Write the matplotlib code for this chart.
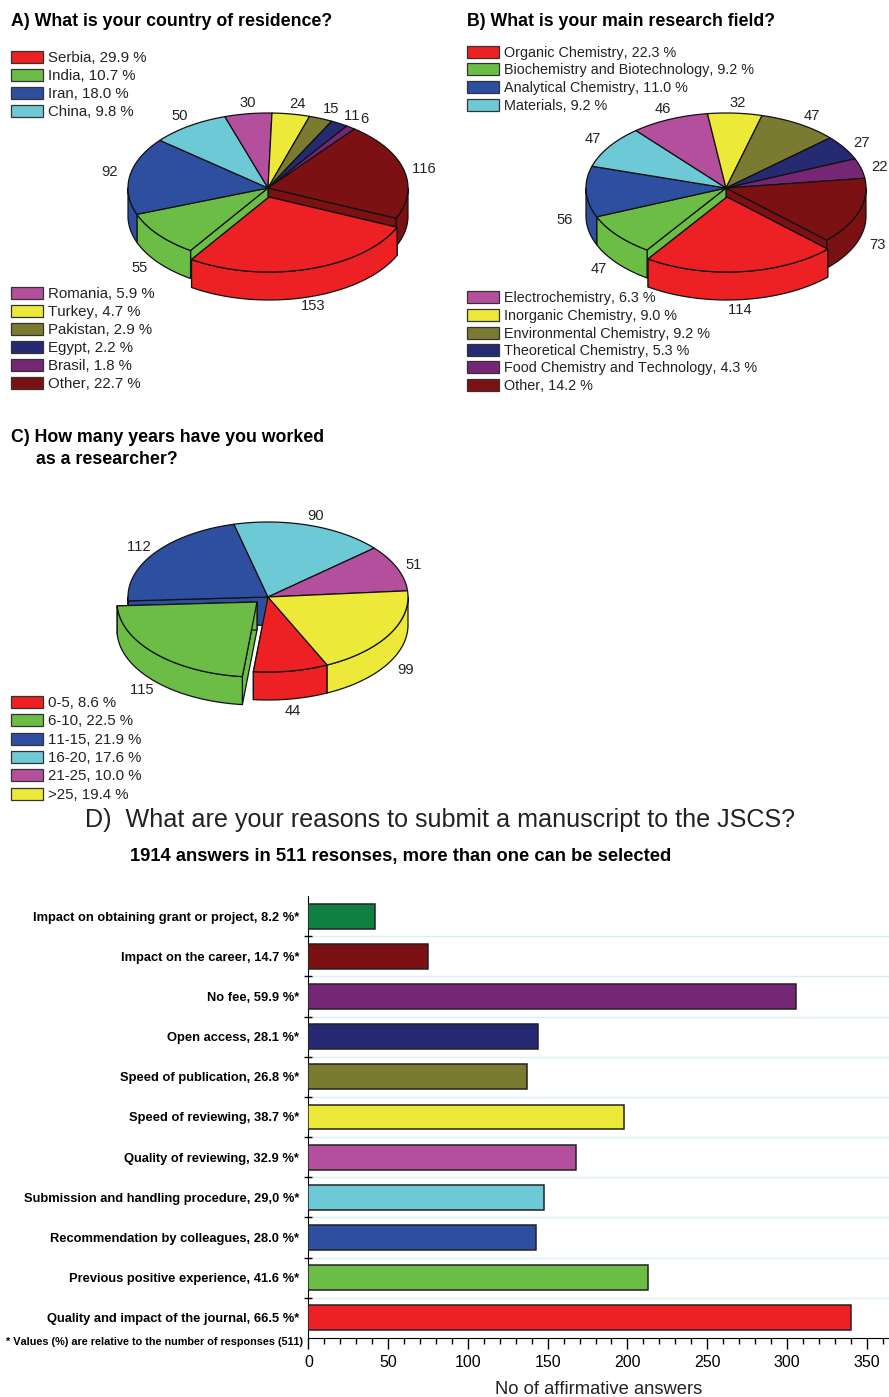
# survey charts - three tilted pies and a bar chart

import matplotlib
matplotlib.use('Agg')
import matplotlib.pyplot as plt
from matplotlib.patches import Polygon, Rectangle
import numpy as np

plt.rcParams['font.family'] = ['Liberation Sans', 'DejaVu Sans']
plt.rcParams['text.kerning_factor'] = 6

RED = '#ed2024'
GREEN = '#6cbd45'
BLUE = '#2e4fa0'
CYAN = '#6ec9d6'
MAGENTA = '#b34f9c'
YELLOW = '#ede938'
OLIVE = '#7a7a30'
NAVY = '#252a72'
PURPLE = '#752675'
MAROON = '#7b1113'
DKGREEN = '#0f8040'

ten_colors = [RED, GREEN, BLUE, CYAN, MAGENTA, YELLOW, OLIVE, NAVY, PURPLE, MAROON]
six_colors = [RED, GREEN, BLUE, CYAN, MAGENTA, YELLOW]

# A
country_counts = [153, 55, 92, 50, 30, 24, 15, 11, 6, 116]
country_labels = ['Serbia, 29.9 %', 'India, 10.7 %', 'Iran, 18.0 %', 'China, 9.8 %',
                  'Romania, 5.9 %', 'Turkey, 4.7 %', 'Pakistan, 2.9 %', 'Egypt, 2.2 %',
                  'Brasil, 1.8 %', 'Other, 22.7 %']
# B
field_counts = [114, 47, 56, 47, 46, 32, 47, 27, 22, 73]
field_labels = ['Organic Chemistry, 22.3 %', 'Biochemistry and Biotechnology, 9.2 %',
                'Analytical Chemistry, 11.0 %', 'Materials, 9.2 %',
                'Electrochemistry, 6.3 %', 'Inorganic Chemistry, 9.0 %',
                'Environmental Chemistry, 9.2 %', 'Theoretical Chemistry, 5.3 %',
                'Food Chemistry and Technology, 4.3 %', 'Other, 14.2 %']
# C
years_counts = [44, 115, 112, 90, 51, 99]
years_labels = ['0-5, 8.6 %', '6-10, 22.5 %', '11-15, 21.9 %', '16-20, 17.6 %',
                '21-25, 10.0 %', '>25, 19.4 %']
# D
reason_labels = ['Quality and impact of the journal, 66.5 %*', 'Previous positive experience, 41.6 %*',
                 'Recommendation by colleagues, 28.0 %*', 'Submission and handling procedure, 29,0 %*',
                 'Quality of reviewing, 32.9 %*', 'Speed of reviewing, 38.7 %*',
                 'Speed of publication, 26.8 %*', 'Open access, 28.1 %*', 'No fee, 59.9 %*',
                 'Impact on the career, 14.7 %*', 'Impact on obtaining grant or project, 8.2 %*']
reason_counts = [340, 213, 143, 148, 168, 198, 137, 144, 306, 75, 42]
reason_colors = [RED, GREEN, BLUE, CYAN, MAGENTA, YELLOW, OLIVE, NAVY, PURPLE, MAROON, DKGREEN]

# where the count labels sit, in pixels
country_pos = [(313, 306), (140, 268), (110, 172), (180, 116), (248, 103),
               (297, 104), (331, 109), (352, 116), (364, 119), (424, 169)]
field_pos = [(740, 310), (599, 269), (565, 220), (593, 139), (663, 109),
             (738, 103), (812, 116), (862, 143), (880, 167), (877, 245)]
years_pos = [(293, 711), (142, 690), (139, 547), (316, 516), (414, 565), (406, 670)]

RX, RY, DEPTH = 140, 75, 28


def arc(cx, cy, a0, a1):
    t = np.radians(np.linspace(a0, a1, 80))
    return np.column_stack([cx + RX * np.cos(t), cy - RY * np.sin(t)])


def poly(ax, pts, color, z):
    ax.add_patch(Polygon(pts, closed=True, facecolor=color, edgecolor='#111111',
                         linewidth=0.9, joinstyle='round', zorder=z))


def draw_face(ax, cx, cy, a, color, z):
    # cut face of a slice, only seen next to the pulled out one
    down = np.array([0, DEPTH])
    c = np.array([cx, cy])
    rim = arc(cx, cy, a, a)[0]
    poly(ax, [c, rim, rim + down, c + down], color, z)


def draw_rim(ax, cx, cy, a0, a1, color, z):
    # angles run clockwise from a0 down to a1, rim is seen between -180 and 0
    down = np.array([0, DEPTH])
    for shift in (0, -360):
        lo, hi = max(a1 - shift, -180), min(a0 - shift, 0)
        if hi > lo:
            top = arc(cx, cy, hi, lo)
            poly(ax, np.vstack([top, top[::-1] + down]), color, z)


def draw_pie(ax, center, counts, colors, start, explode, offset):
    cx, cy = center
    n = len(counts)
    spans = np.array(counts) / sum(counts) * 360
    ends = start - np.cumsum(spans)
    starts = ends + spans
    rest = [i for i in range(n) if i != explode]
    draw_face(ax, cx, cy, starts[explode], colors[(explode - 1) % n], 1)
    draw_face(ax, cx, cy, ends[explode], colors[(explode + 1) % n], 1)
    for i in rest:
        draw_rim(ax, cx, cy, starts[i], ends[i], colors[i], 2)
    for i in rest:
        poly(ax, np.vstack([[cx, cy], arc(cx, cy, starts[i], ends[i])]), colors[i], 3)
    ex, ey = cx + offset[0], cy + offset[1]
    draw_face(ax, ex, ey, starts[explode], colors[explode], 4)
    draw_face(ax, ex, ey, ends[explode], colors[explode], 4)
    draw_rim(ax, ex, ey, starts[explode], ends[explode], colors[explode], 4.5)
    poly(ax, np.vstack([[ex, ey], arc(ex, ey, starts[explode], ends[explode])]), colors[explode], 5)


def draw_legend(ax, x, rows, labels, colors, size):
    for y, lab, col in zip(rows, labels, colors):
        ax.add_patch(Rectangle((x, y - 6), 32, 12, facecolor=col, edgecolor='#333333',
                               linewidth=0.9, zorder=2))
        ax.text(x + 37, y + 1, lab, fontsize=size, va='center', ha='left', color='#222222')


def draw_counts(ax, counts, positions):
    for n, (x, y) in zip(counts, positions):
        ax.text(x, y, str(n), fontsize=10.6, ha='center', va='center', color='#222222')


fig = plt.figure(figsize=(8.89, 13.97), dpi=100)
page = fig.add_axes([0, 0, 1, 1])
page.set_xlim(0, 889)
page.set_ylim(1397, 0)
page.axis('off')

# A
page.text(11, 21, 'A) What is your country of residence?', fontsize=12.75, fontweight='bold', va='center')
draw_pie(page, (268, 188), country_counts, ten_colors, -23.8, 0, (1, 9))
draw_counts(page, country_counts, country_pos)
draw_legend(page, 11, [57, 75, 93, 111, 293, 311, 329, 347, 365, 383], country_labels, ten_colors, 10.8)

# B
page.text(467, 22, 'B) What is your main research field?', fontsize=12.75, fontweight='bold', va='center')
draw_pie(page, (726, 188), field_counts, ten_colors, -44, 0, (1, 9))
draw_counts(page, field_counts, field_pos)
draw_legend(page, 467, [52, 69, 87, 105, 297, 315, 333, 350, 367, 385], field_labels, ten_colors, 10.4)

# C
page.text(11, 437, 'C) How many years have you worked', fontsize=12.75, fontweight='bold', va='center')
page.text(36, 459, 'as a researcher?', fontsize=12.75, fontweight='bold', va='center')
draw_pie(page, (268, 597), years_counts, six_colors, -65, 1, (-11, 5))
draw_counts(page, years_counts, years_pos)
draw_legend(page, 11, [702, 720, 739, 757, 775, 794], years_labels, six_colors, 10.8)

# D
page.text(85, 820, 'D)  What are your reasons to submit a manuscript to the JSCS?', fontsize=18.1, va='center', color='#222222')
page.text(130, 856, '1914 answers in 511 resonses, more than one can be selected', fontsize=13.2, fontweight='bold', va='center')
page.text(303, 1342, '* Values (%) are relative to the number of responses (511)', fontsize=7.85, fontweight='bold', va='center', ha='right')

ax = fig.add_axes([308.4 / 889, (1397 - 1338) / 1397, (889 - 308.4) / 889, 442 / 1397])
ax.patch.set_alpha(0)
pos = np.arange(len(reason_counts))
ax.barh(pos, reason_counts, height=0.62, color=reason_colors, edgecolor='#222222', linewidth=1.1, zorder=3)
ax.set_xlim(0, (889 - 308.4) / 1.595)
ax.set_ylim(-0.5, len(reason_counts) - 0.5)
ax.spines['top'].set_visible(False)
ax.spines['right'].set_visible(False)
ax.set_xticks(np.arange(0, 351, 50))
ax.set_xticks(np.arange(0, 361, 10), minor=True)
ax.tick_params(axis='x', which='major', length=8, width=1, labelsize=11.5, pad=4)
ax.tick_params(axis='x', which='minor', length=4, width=1)
ax.set_yticks(pos)
ax.set_yticklabels(reason_labels, fontsize=9.25, fontweight='bold')
ax.set_yticks(pos[1:] - 0.5, minor=True)
ax.tick_params(axis='y', which='major', length=0, pad=6.5)
ax.tick_params(axis='y', which='minor', length=6, width=1, direction='inout')
ax.grid(which='minor', axis='y', color='#d8eff3', linewidth=1)
ax.set_axisbelow(True)
ax.set_xlabel('No of affirmative answers', fontsize=13.2, labelpad=8.5, color='#222222')

fig.savefig('out.png', dpi=100)
